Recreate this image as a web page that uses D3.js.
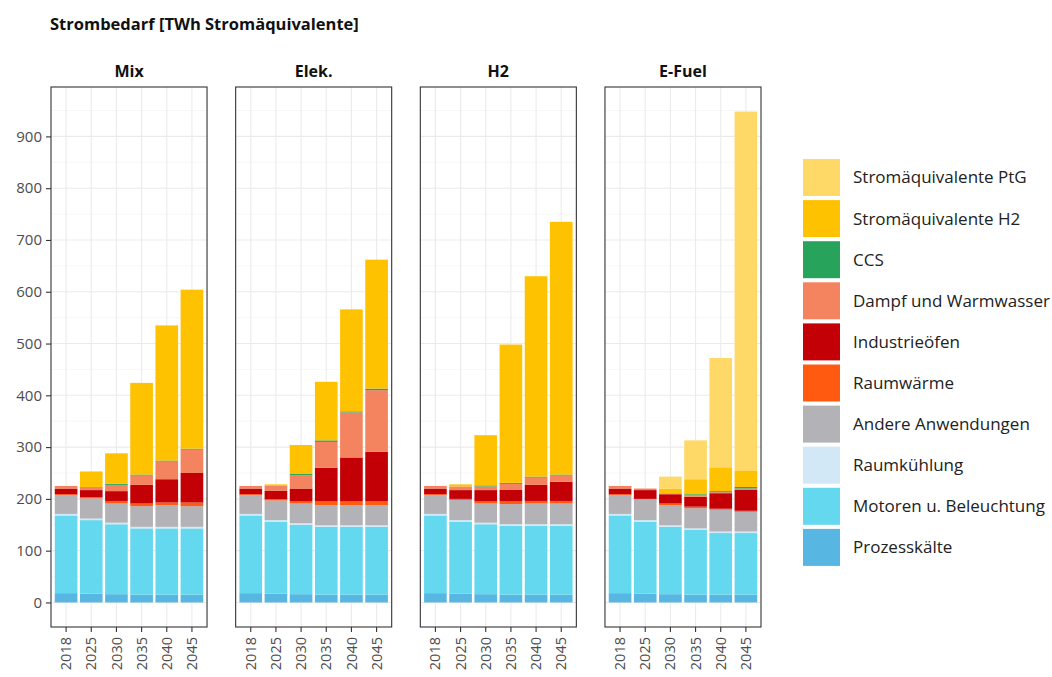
<!DOCTYPE html>
<html><head><meta charset="utf-8">
<script src="https://cdn.jsdelivr.net/npm/d3@7"></script>
<style>
body{margin:0;background:#fff;}
svg{display:block;font-family:"Open Sans",sans-serif;}
</style></head>
<body>
<svg id="chart" width="1052" height="677"></svg>
<script>
// ---- data ----
const scenarios = ["Mix", "Elek.", "H2", "E-Fuel"];
const years = ["2018", "2025", "2030", "2035", "2040", "2045"];
const seriesNames = ["Prozesskälte", "Motoren u. Beleuchtung", "Raumkühlung", "Andere Anwendungen",
  "Raumwärme", "Industrieöfen", "Dampf und Warmwasser", "CCS", "Stromäquivalente H2", "Stromäquivalente PtG"];
const seriesColors = ["#58b6e3", "#64d8ee", "#d2e8f7", "#b3b2b7", "#ff5a10", "#c20006", "#f4845f", "#27a35c", "#ffc200", "#ffd967"];
const yTicks = [0, 100, 200, 300, 400, 500, 600, 700, 800, 900];

// values per series: one row per scenario (Mix, Elek., H2, E-Fuel), columns = years
const prozesskaelte = [[18,17,16,15,15,15],[18,17,16,15,15,15],[18,17,16,15,15,15],[18,17,16,15,15,15]];
const motoren       = [[150,142,135,128,128,128],[150,139,134,131,131,131],[150,139,135,133,133,133],[150,139,130,125,119,119]];
const raumkuehlung  = [[3,3,3,3,3,3],[3,3,3,3,3,3],[3,3,3,3,3,3],[3,3,3,3,3,3]];
const andere        = [[36,39,37,40,42,40],[36,38,38,39,39,39],[36,39,37,39,40,40],[36,40,39,39,42,38]];
const raumwaerme    = [[2,2,5,5,5,7],[2,2,4,7,7,7],[2,2,4,5,5,5],[2,1,3,3,2,2]];
const industrieoefen= [[11,14,19,36,45,57],[11,17,25,65,85,96],[11,17,22,23,31,37],[11,17,18,19,30,41]];
const dampf         = [[5,6,12,18,34,45],[5,9,26,50,87,119],[5,7,7,11,14,12],[5,3,2,3,2,2]];
const ccs           = [[0,0,2,2,2,2],[0,0,2,3,2,3],[0,0,2,2,2,2],[0,0,0,2,2,3]];
const h2            = [[0,30,59,177,261,307],[0,3,56,113,197,249],[0,4,97,267,387,488],[0,0,9,29,46,32]];
const ptg           = [[0,0,0,0,0,0],[0,0,0,0,0,0],[0,0,0,0,0,0],[0,0,23,75,211,693]];
const seriesValues = [prozesskaelte, motoren, raumkuehlung, andere, raumwaerme, industrieoefen, dampf, ccs, h2, ptg];

// ---- layout ----
const svg = d3.select("#chart");
const panelTop = 87, panelBottom = 627;

const panelScale = d3.scaleBand().domain(scenarios).range([51, 761]).paddingInner(0.155);
const xScale = d3.scaleBand().domain(years).range([0, panelScale.bandwidth()]).paddingInner(0.1).paddingOuter(0.15);

const totals = [];
scenarios.forEach((s, si) => years.forEach((y, yi) => {
  totals.push(d3.sum(seriesValues, sv => sv[si][yi]));
}));
const maxV = d3.max(totals);
const yScale = d3.scaleLinear().domain([-maxV * 0.05, maxV * 1.05]).range([panelBottom, panelTop]);

// title
svg.append("text").attr("x", 50).attr("y", 30)
  .attr("font-size", 16.5).attr("font-weight", "bold").attr("fill", "#111")
  .text("Strombedarf [TWh Stromäquivalente]");

const minorTicks = d3.range(50, maxV * 1.05, 100);

scenarios.forEach((scen, si) => {
  const g = svg.append("g").attr("transform", `translate(${panelScale(scen)},0)`);
  const w = panelScale.bandwidth();
  // grid
  g.selectAll(".minor").data(minorTicks).join("line")
    .attr("x1", 0).attr("x2", w).attr("y1", d => yScale(d)).attr("y2", d => yScale(d))
    .attr("stroke", "#f2f2f2").attr("stroke-width", 0.6);
  g.selectAll(".major").data(yTicks).join("line")
    .attr("x1", 0).attr("x2", w).attr("y1", d => yScale(d)).attr("y2", d => yScale(d))
    .attr("stroke", "#ebebeb").attr("stroke-width", 1.1);
  g.selectAll(".vmajor").data(years).join("line")
    .attr("x1", d => xScale(d) + xScale.bandwidth() / 2).attr("x2", d => xScale(d) + xScale.bandwidth() / 2)
    .attr("y1", panelTop).attr("y2", panelBottom)
    .attr("stroke", "#ebebeb").attr("stroke-width", 1.1);

  // stacked bars
  const rows = years.map((yr, yi) => {
    const r = { year: yr };
    seriesNames.forEach((n, k) => r[n] = seriesValues[k][si][yi]);
    return r;
  });
  const stacked = d3.stack().keys(seriesNames)(rows);
  stacked.forEach((layer, k) => {
    g.append("g").attr("fill", seriesColors[k])
      .selectAll("rect").data(layer).join("rect")
      .attr("x", d => xScale(d.data.year))
      .attr("width", xScale.bandwidth())
      .attr("y", d => yScale(d[1]))
      .attr("height", d => Math.max(0, yScale(d[0]) - yScale(d[1])));
  });

  // border
  g.append("rect").attr("x", 0).attr("y", panelTop).attr("width", w).attr("height", panelBottom - panelTop)
    .attr("fill", "none").attr("stroke", "#333").attr("stroke-width", 1.1);

  // strip title
  g.append("text").attr("x", w / 2).attr("y", 77).attr("text-anchor", "middle")
    .attr("font-size", 16).attr("font-weight", "bold").attr("fill", "#111").text(scen);

  // x axis
  const xAxis = d3.axisBottom(xScale).tickSize(5).tickPadding(4);
  const ax = g.append("g").attr("transform", `translate(0,${panelBottom})`).call(xAxis);
  ax.select(".domain").remove();
  ax.selectAll(".tick line").attr("stroke", "#333").attr("stroke-width", 1.1);
  ax.selectAll(".tick text")
    .attr("font-size", 14.5).attr("fill", "#4d4d4d").attr("font-family", "Open Sans, sans-serif")
    .attr("transform", "rotate(-90)")
    .attr("text-anchor", "end")
    .attr("x", -10).attr("y", 0).attr("dy", "0.35em");

  if (si === 0) {
    const yAxis = d3.axisLeft(yScale).tickValues(yTicks).tickSize(5).tickPadding(4);
    const ay = g.append("g").call(yAxis);
    ay.select(".domain").remove();
    ay.selectAll(".tick line").attr("stroke", "#333").attr("stroke-width", 1.1);
    ay.selectAll(".tick text").attr("font-size", 15).attr("fill", "#4d4d4d").attr("font-family", "Open Sans, sans-serif");
  }
});

// legend (top to bottom = reverse stack order)
const legendItems = seriesNames.map((n, k) => ({ name: n, color: seriesColors[k] })).reverse();
const lg = svg.append("g").attr("transform", "translate(803,159)");
const li = lg.selectAll("g").data(legendItems).join("g")
  .attr("transform", (d, i) => `translate(0,${i * 41.1})`);
li.append("rect").attr("width", 37).attr("height", 37).attr("fill", d => d.color);
li.append("text").attr("x", 50).attr("y", 18.5).attr("dy", "0.35em")
  .attr("font-size", 17).attr("fill", "#222").text(d => d.name);
</script>
</body></html>
